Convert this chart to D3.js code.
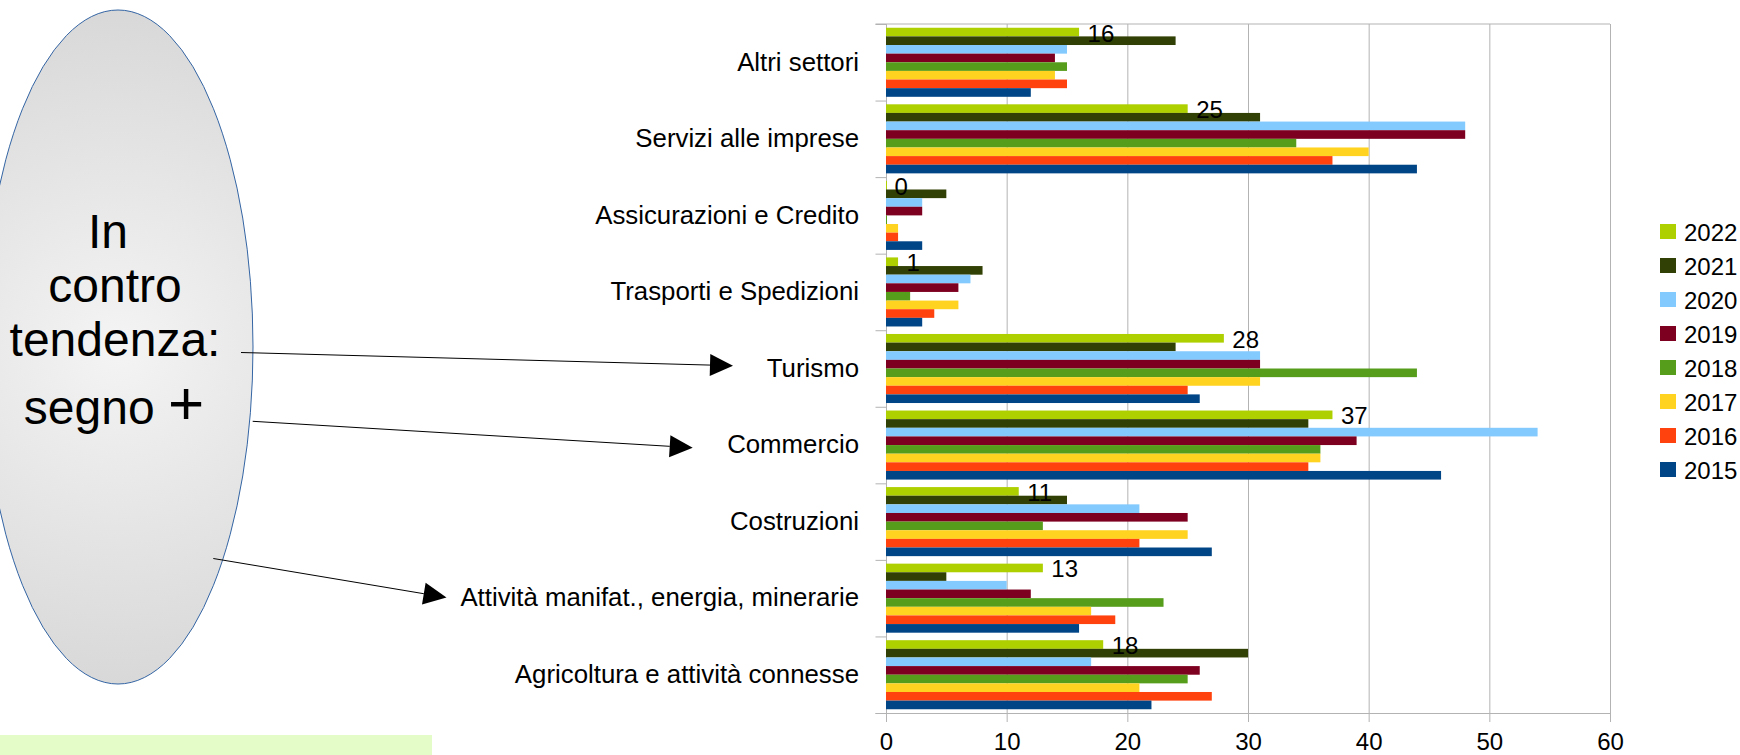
<!DOCTYPE html>
<html>
<head>
<meta charset="utf-8">
<script src="https://cdn.jsdelivr.net/npm/d3@7"></script>
<style>
  html, body { margin: 0; padding: 0; background: #ffffff; }
  svg { display: block; font-family: "Liberation Sans", Arial, sans-serif; }
</style>
</head>
<body>
<svg id="chart" width="1740" height="755"></svg>
<script>
// Sectors, listed top to bottom
const categories = [
  "Altri settori",
  "Servizi alle imprese",
  "Assicurazioni e Credito",
  "Trasporti e Spedizioni",
  "Turismo",
  "Commercio",
  "Costruzioni",
  "Attività manifat., energia, minerarie",
  "Agricoltura e attività connesse"
];

// Years, in the order bars are stacked inside each group (top to bottom)
const years = ["2022", "2021", "2020", "2019", "2018", "2017", "2016", "2015"];

// Values per year, one entry per sector (same order as categories)
const v2022 = [16, 25, 0, 1, 28, 37, 11, 13, 18];
const v2021 = [24, 31, 5, 8, 24, 35, 15, 5, 30];
const v2020 = [15, 48, 3, 7, 31, 54, 21, 10, 17];
const v2019 = [14, 48, 3, 6, 31, 39, 25, 12, 26];
const v2018 = [15, 34, 0, 2, 44, 36, 13, 23, 25];
const v2017 = [14, 40, 1, 6, 31, 36, 25, 17, 21];
const v2016 = [15, 37, 1, 4, 25, 35, 21, 19, 27];
const v2015 = [12, 44, 3, 3, 26, 46, 27, 16, 22];

const xTicks = [0, 10, 20, 30, 40, 50, 60];

// Series colours
const colors = ["#aecf00", "#314004", "#83caff", "#7e0021", "#579d1c", "#ffd320", "#ff420e", "#004586"];

// Series table built from the arrays above
const seriesValues = [v2022, v2021, v2020, v2019, v2018, v2017, v2016, v2015];
const series = years.map((y, i) => ({ year: y, values: seriesValues[i], color: colors[i] }));
const labelledYear = "2022";

const svg = d3.select("#chart");

// ---- annotation: ellipse with text and arrows ----
const ell = { cx: 118, cy: 347, rx: 135, ry: 337 };
const defs = svg.append("defs");
// circular shading centred on the ellipse, radius reaching the bounding-box corner
const grad = defs.append("radialGradient")
  .attr("id", "ellGrad")
  .attr("gradientUnits", "userSpaceOnUse")
  .attr("cx", ell.cx).attr("cy", ell.cy)
  .attr("r", Math.hypot(ell.rx, ell.ry));
grad.append("stop").attr("offset", "0%").attr("stop-color", "#f4f4f4");
grad.append("stop").attr("offset", "100%").attr("stop-color", "#d6d6d6");

svg.append("ellipse")
  .attr("cx", ell.cx).attr("cy", ell.cy)
  .attr("rx", ell.rx).attr("ry", ell.ry)
  .attr("fill", "url(#ellGrad)")
  .attr("stroke", "#3465a4")
  .attr("stroke-width", 1);

const note = svg.append("g").attr("fill", "#000").attr("text-anchor", "middle");
note.append("text").attr("x", 108).attr("y", 248).attr("font-size", 48).text("In");
note.append("text").attr("x", 115).attr("y", 302).attr("font-size", 48).text("contro");
note.append("text").attr("x", 115).attr("y", 356).attr("font-size", 48).text("tendenza:");
const seg = note.append("text").attr("x", 114).attr("y", 424).attr("font-size", 48);
seg.append("tspan").text("segno ");
seg.append("tspan").attr("font-size", 62).text("+");

// Arrow helper: thin shaft ending in a solid triangular head
function arrow(x1, y1, x2, y2) {
  const len = 23, half = 11;
  const a = Math.atan2(y2 - y1, x2 - x1);
  const bx = x2 - len * Math.cos(a), by = y2 - len * Math.sin(a);
  svg.append("line")
    .attr("x1", x1).attr("y1", y1).attr("x2", bx).attr("y2", by)
    .attr("stroke", "#000").attr("stroke-width", 1);
  const px = -Math.sin(a) * half, py = Math.cos(a) * half;
  svg.append("polygon")
    .attr("points", [[x2, y2], [bx + px, by + py], [bx - px, by - py]].map(p => p.join(",")).join(" "))
    .attr("fill", "#000");
}
arrow(241, 352.5, 733, 365.7);
arrow(252.7, 421.3, 692.7, 447.7);
arrow(213.3, 558.5, 446.5, 597.5);

// light green strip along the bottom
svg.append("rect")
  .attr("x", 0).attr("y", 735).attr("width", 432).attr("height", 20)
  .attr("fill", "#e4fcc8");

// ---- bar chart ----
const plot = { left: 886, right: 1610, top: 24, bottom: 713 };

const x = d3.scaleLinear().domain([0, 60]).range([plot.left, plot.right]);
const y = d3.scaleBand().domain(categories).range([plot.top, plot.bottom])
  .paddingInner(0.098).paddingOuter(0.049);
const yInner = d3.scaleBand().domain(years).range([0, y.bandwidth()]);
const yEdges = d3.scaleLinear().domain([0, categories.length]).range([plot.top, plot.bottom]);

const gridColor = "#b3b3b3";

// vertical gridlines
svg.append("g")
  .attr("transform", `translate(0,${plot.top})`)
  .call(d3.axisBottom(x).tickValues(xTicks).tickSize(plot.bottom - plot.top).tickFormat(""))
  .call(g => g.select(".domain").remove())
  .call(g => g.selectAll("line").attr("stroke", gridColor));

// top border
svg.append("line")
  .attr("x1", plot.left - 10.5).attr("x2", plot.right)
  .attr("y1", plot.top).attr("y2", plot.top)
  .attr("stroke", gridColor);

// x axis
svg.append("g")
  .attr("transform", `translate(0,${plot.bottom})`)
  .call(d3.axisBottom(x).tickValues(xTicks).tickSize(9).tickPadding(10.5).tickSizeOuter(0))
  .call(g => g.select(".domain").attr("stroke", gridColor).attr("d", `M${plot.left - 10.5},0.5H${plot.right}`))
  .call(g => g.selectAll("line").attr("stroke", gridColor))
  .call(g => g.selectAll("text").attr("font-size", 24).attr("fill", "#000")
    .attr("font-family", "'Liberation Sans', Arial, sans-serif"));

// category boundary ticks
svg.append("g")
  .attr("transform", `translate(${plot.left},0)`)
  .call(d3.axisLeft(yEdges).tickValues(d3.range(categories.length + 1)).tickSize(10.5).tickFormat("").tickSizeOuter(0))
  .call(g => g.select(".domain").attr("stroke", gridColor))
  .call(g => g.selectAll("line").attr("stroke", gridColor));

// category labels
svg.append("g")
  .attr("transform", `translate(${plot.left},0)`)
  .call(d3.axisLeft(y).tickSize(0).tickPadding(27))
  .call(g => g.select(".domain").remove())
  .call(g => g.selectAll("text").attr("font-size", 25.8).attr("fill", "#000")
    .attr("font-family", "'Liberation Sans', Arial, sans-serif"));

// bars
const groups = svg.append("g").selectAll("g")
  .data(categories)
  .join("g")
  .attr("transform", d => `translate(0,${y(d)})`);

groups.selectAll("rect")
  .data((c, ci) => series.map(s => ({ year: s.year, value: s.values[ci], color: s.color })))
  .join("rect")
  .attr("x", x(0))
  .attr("y", d => yInner(d.year))
  .attr("width", d => Math.max(1, x(d.value) - x(0)))
  .attr("height", yInner.bandwidth())
  .attr("fill", d => d.color);

// value labels for the latest year
groups.selectAll("text.val")
  .data((c, ci) => series.filter(s => s.year === labelledYear).map(s => ({ year: s.year, value: s.values[ci] })))
  .join("text")
  .attr("class", "val")
  .attr("x", d => x(d.value) + 8.5)
  .attr("y", d => yInner(d.year) + yInner.bandwidth() / 2 + 9.5)
  .attr("font-size", 24)
  .attr("fill", "#000")
  .text(d => d.value);

// legend
const legend = svg.append("g").attr("transform", "translate(1660,224)");
const items = legend.selectAll("g").data(series).join("g")
  .attr("transform", (d, i) => `translate(0,${i * 34})`);
items.append("rect").attr("width", 16).attr("height", 15).attr("fill", d => d.color);
items.append("text").attr("x", 24).attr("y", 16.5).attr("font-size", 24).attr("fill", "#000")
  .text(d => d.year);
</script>
</body>
</html>
